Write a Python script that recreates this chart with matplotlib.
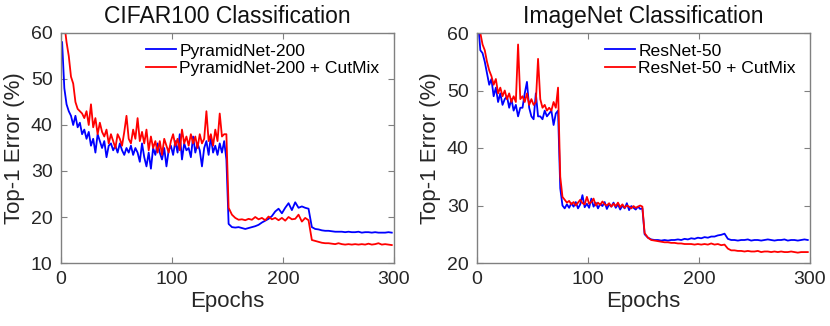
import numpy as np
import matplotlib
matplotlib.use("Agg")
import matplotlib.pyplot as plt

plt.rcParams["font.family"] = ["Liberation Sans", "DejaVu Sans"]

# epoch grids: noisy first half every 2 epochs, second half every 3 epochs
ep_early = list(range(1, 150, 2))
ep_late = list(range(151, 300, 3))
epochs = ep_early + ep_late

# CIFAR100 - PyramidNet-200
cifar_base = [
    58, 48, 44.5, 43, 42, 40, 42, 39.5, 40.5, 38, 39, 37, 38.5, 35.5, 37,
    34, 38, 36.5, 35, 36.5, 33, 35.5, 36, 34.5, 35.5, 34, 36, 34.5, 33.5, 35,
    34, 35.5, 33.5, 35, 34, 32, 36, 33, 31, 34, 30.5, 35, 33.5, 36, 34,
    32.5, 35, 31, 34.5, 35.5, 33.5, 36.5, 34, 38, 32.5, 36, 34.5, 35, 33, 37.5,
    34, 36, 34.5, 31, 35, 36.5, 33.5, 37.5, 34, 35.5, 33.5, 36, 34, 36.5, 32.5,
    18.5, 17.8, 17.7, 17.8, 17.6, 17.4, 17.6, 17.8, 18, 18.3,
    18.8, 19.2, 19.6, 20.2, 21.2, 21.8, 20.8, 22, 23, 21.5,
    23.2, 22, 22.3, 22, 21.8, 17.8, 17.4, 17.3, 17.1, 17,
    17, 16.9, 16.8, 16.8, 16.8, 16.7, 16.8, 16.7, 16.7, 16.8,
    16.6, 16.7, 16.7, 16.6, 16.7, 16.6, 16.6, 16.6, 16.7, 16.6,
]
# CIFAR100 - PyramidNet-200 + CutMix
cifar_cutmix = [
    70, 62, 58, 55, 50.5, 49, 45, 43.5, 43, 42.5, 41.5, 43, 40, 44.5, 39.5,
    41.5, 38, 40.5, 38.5, 37.5, 39, 36, 38, 36.5, 35, 38, 37, 35.5, 38.5, 42,
    37, 36, 39, 37, 41.5, 36.5, 38.5, 36, 39, 34.5, 37.5, 35, 36.5, 34, 36.5,
    33.5, 37, 35.5, 34, 36.5, 38, 35.5, 37, 34.5, 39, 36, 37.5, 35.5, 38, 36,
    37.5, 35, 38, 36, 37, 43, 36.5, 38, 35.5, 39, 36.5, 42.5, 37.5, 38, 38,
    22, 20.5, 19.8, 19.4, 19.5, 19.3, 19.6, 19.4, 20, 19.5,
    19.8, 19.3, 20.1, 19.5, 19.8, 19.3, 19.8, 19.2, 20, 19.5,
    19.6, 20.5, 19, 19.8, 19.3, 15, 14.8, 14.6, 14.4, 14.3,
    14.3, 14.2, 14.1, 14.3, 14.1, 14.0, 14.1, 14.0, 14.1, 14.0,
    14.1, 14.0, 14.2, 14.0, 14.1, 14.3, 14.0, 14.1, 14.0, 13.9,
]

# ImageNet - ResNet-50
imnet_base = [
    62, 57, 56.5, 55, 53, 51, 52, 49, 50.5, 48, 49.5, 47.5, 48.5, 49, 47,
    48.5, 46.5, 47.5, 45.5, 47, 47, 49.5, 51.5, 47, 45.5, 45, 49.5, 45.5, 45.5, 45,
    46.5, 45.5, 46, 46.5, 44, 46, 46.5, 33, 30, 29.5, 30.2, 29.6, 30.4, 29.8, 30.6,
    29.5, 30.2, 31.8, 29.7, 30.3, 29.6, 31.2, 29.8, 30.5, 29.5, 30.3, 29.9, 30.6, 29.4, 30.2,
    29.8, 30.5, 29.6, 30.2, 29.3, 30.0, 29.5, 30.4, 29.2, 29.9, 29.6, 29.3, 29.8, 29.4, 29.5,
    25.0, 24.4, 24.1, 24.0, 24.0, 23.9, 24.0, 23.9, 24.0, 24.0,
    24.1, 24.0, 24.2, 24.1, 24.3, 24.2, 24.4, 24.3, 24.5, 24.4,
    24.6, 24.6, 24.8, 24.9, 25.1, 24.2, 24.0, 24.0, 23.9, 24.0,
    24.0, 24.1, 23.9, 24.0, 24.0, 23.9, 24.0, 24.1, 24.0, 23.9,
    24.0, 24.0, 24.1, 23.9, 24.0, 24.0, 23.9, 24.0, 24.1, 24.0,
]
# ImageNet - ResNet-50 + CutMix
imnet_cutmix = [
    65, 60, 58, 57, 55, 53.5, 52.5, 51, 52, 49.5, 50.5, 49, 50, 48.5, 49.5,
    48, 49, 48, 58, 48.5, 49, 48, 49.5, 47.5, 48.5, 47.5, 48, 55.5, 48.5, 47,
    47.5, 46.5, 47, 46.5, 48, 47, 50.5, 35, 31.5, 31, 30.5, 30.8, 30.2, 30.6, 30.0,
    30.5, 31.0, 30.4, 30.2, 31.5, 30.3, 30.6, 31.2, 30.0, 30.5, 30.1, 30.7, 30.2, 30.0, 30.4,
    29.8, 30.3, 29.9, 30.5, 29.7, 30.2, 29.6, 30.0, 29.8, 29.5, 29.9, 29.6, 29.8, 30.0, 29.8,
    25.2, 24.4, 24.0, 23.9, 23.8, 23.7, 23.6, 23.6, 23.5, 23.5,
    23.4, 23.4, 23.3, 23.3, 23.3, 23.2, 23.3, 23.2, 23.3, 23.2,
    23.4, 23.2, 23.3, 23.1, 23.2, 22.5, 22.2, 22.2, 22.1, 22.1,
    22.0, 22.1, 22.0, 22.0, 22.1, 21.9, 22.0, 22.0, 21.9, 22.0,
    21.9, 22.0, 21.9, 21.9, 22.0, 21.9, 21.8, 21.9, 21.9, 21.9,
]

panels = [
    ("CIFAR100 Classification", cifar_base, cifar_cutmix,
     "PyramidNet-200", "PyramidNet-200 + CutMix", (10, 60), [10, 20, 30, 40, 50, 60], 0.255),
    ("ImageNet Classification", imnet_base, imnet_cutmix,
     "ResNet-50", "ResNet-50 + CutMix", (20, 60), [20, 30, 40, 50, 60], 0.385),
]

fig = plt.figure(figsize=(8.3, 3.26), dpi=100)
lefts = [61 / 830, 477 / 830]
for left, (title, base, cutmix, lab1, lab2, ylim, yticks, legx) in zip(lefts, panels):
    ax = fig.add_axes([left, 1 - 263 / 326, 333 / 830, 230 / 326])
    ax.plot(epochs, base, color="#0000ff", lw=1.3, label=lab1)
    ax.plot(epochs, cutmix, color="#ff0000", lw=1.3, label=lab2)
    ax.set_xlim(0, 300)
    ax.set_ylim(*ylim)
    ax.set_xticks([0, 100, 200, 300])
    ax.set_yticks(yticks)
    for s in ax.spines.values():
        s.set_color("#808080")
        s.set_linewidth(1.0)
    ax.tick_params(direction="in", top=True, right=True, length=4, width=0.8,
                   color="#808080", labelsize=14, labelcolor="#262626", pad=6)
    ax.set_title(title, fontsize=16.5, color="#111111", pad=7)
    ax.set_xlabel("Epochs", fontsize=16, color="#262626", labelpad=2)
    ax.set_ylabel("Top-1 Error (%)", fontsize=16, color="#262626", labelpad=4)
    ax.legend(loc="upper left", bbox_to_anchor=(legx, 0.955), frameon=False,
              fontsize=12.6, handlelength=1.7, handletextpad=0.2,
              labelspacing=0.15, borderpad=0, borderaxespad=0)

fig.savefig("out.png", dpi=100)
